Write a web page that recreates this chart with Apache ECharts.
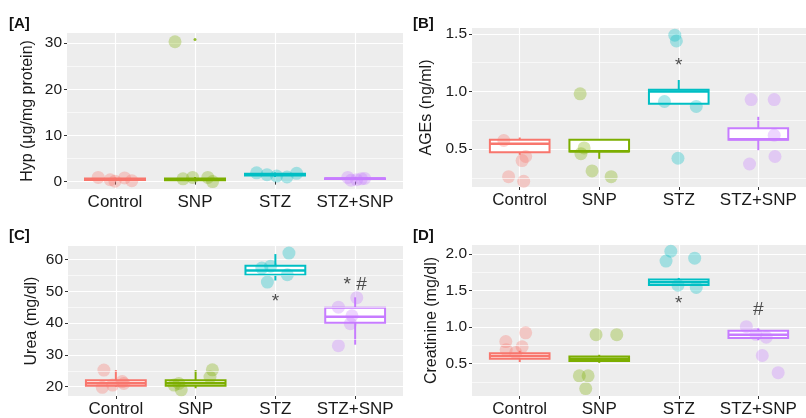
<!DOCTYPE html>
<html>
<head>
<meta charset="utf-8">
<script src="https://cdn.jsdelivr.net/npm/echarts@6/dist/echarts.min.js"></script>
<style>html,body{margin:0;padding:0;background:#fff}#c{width:806px;height:418px}</style>
</head>
<body>
<div id="c"></div>
<script>
const categories = ['Control', 'SNP', 'STZ', 'STZ+SNP'];
const colors = ['#F8766D', '#7CAE00', '#00BFC4', '#C77CFF'];
const pointColors = ['rgba(248,118,109,0.4)', 'rgba(124,174,0,0.4)', 'rgba(0,191,196,0.4)', 'rgba(199,124,255,0.4)'];

// Panel A: Hyp
const hypPoints = [[0.9, 0.1, 0.8, 0.2, 0.4], [30.3, 0.6, 0.9, 0.9, 0.0], [1.9, 1.2, 1.0, 1.8, 1.5], [0.9, 0.4, 0.6, 0.3, 0.7]];
const hypJitter = [[-0.21, 0, 0.12, 0.21, -0.06], [-0.25, -0.15, -0.03, 0.16, 0.22], [-0.23, 0.02, 0.15, 0.27, -0.1], [-0.09, 0.02, 0.08, -0.05, 0.12]];
const hypBox = [[0.2, 0.35, 0.5, 0.65, 0.85], [0.1, 0.3, 0.5, 0.7, 1.0], [1.0, 1.3, 1.5, 1.7, 2.0], [0.4, 0.55, 0.65, 0.75, 0.9]];
const hypOutliers = [[1, 30.8]];
const hypTicks = [0, 10, 20, 30];
const hypMinor = [5, 15, 25];
const hypAnn = [];

// Panel B: AGEs
const agePoints = [[0.574, 0.435, 0.40, 0.26, 0.22], [0.98, 0.51, 0.46, 0.31, 0.26], [1.49, 1.44, 0.913, 0.87, 0.42], [0.93, 0.93, 0.62, 0.435, 0.37]];
const ageJitter = [[-0.2, 0.075, 0.03, -0.14, 0.05], [-0.24, -0.19, -0.23, -0.09, 0.15], [-0.05, -0.03, -0.18, 0.22, -0.01], [-0.09, 0.2, 0.2, 0.21, -0.11]];
const ageBox = [[0.45, 0.473, 0.545, 0.58, 0.6], [0.415, 0.478, 0.48, 0.58, 0.58], [0.893, 0.893, 1.0, 1.015, 1.10], [0.49, 0.58, 0.585, 0.68, 0.78]];
const ageTicks = [0.5, 1.0, 1.5];
const ageMinor = [0.25, 0.75, 1.25];
const ageAnn = [[2, 1.25, '*']];

// Panel C: Urea
const ureaPoints = [[25.2, 19.8, 21.6, 20.5, 21.0], [25.3, 23.0, 21.0, 19.0, 20.5], [62.0, 52.9, 57.9, 55.2, 57.3], [48.0, 45.0, 42.3, 39.8, 32.9]];
const ureaJitter = [[-0.15, -0.17, 0.08, -0.04, 0.1], [0.21, 0.18, -0.21, -0.18, -0.27], [0.17, -0.1, -0.06, 0.15, -0.17], [0.02, -0.21, -0.04, -0.06, -0.21]];
const ureaBox = [[20.0, 20.3, 21.1, 22.0, 25.2], [19.5, 20.3, 21.1, 22.0, 25.2], [53.4, 55.2, 56.5, 58.0, 61.7], [33.2, 40.1, 42.0, 44.8, 48.1]];
const ureaTicks = [20, 30, 40, 50, 60];
const ureaMinor = [25, 35, 45, 55];
const ureaAnn = [[2, 47.7, '*'], [3, 53.1, '* #']];

// Panel D: Creatinine
const creaPoints = [[0.92, 0.80, 0.73, 0.69, 0.65], [0.895, 0.895, 0.333, 0.333, 0.158], [2.035, 1.90, 1.94, 1.57, 1.54], [1.004, 0.86, 0.61, 0.376, 0.9]];
const creaJitter = [[0.075, -0.175, 0.03, -0.17, -0.05], [-0.04, 0.22, -0.25, -0.14, -0.17], [-0.1, -0.16, 0.2, -0.01, 0.22], [-0.15, 0.1, 0.05, 0.25, -0.03]];
const creaBox = [[0.52, 0.566, 0.605, 0.64, 0.675], [0.51, 0.534, 0.565, 0.596, 0.62], [1.56, 1.574, 1.61, 1.65, 1.67], [0.82, 0.85, 0.895, 0.947, 0.98]];
const creaTicks = [0.5, 1.0, 1.5, 2.0];
const creaMinor = [0.25, 0.75, 1.25, 1.75];
const creaAnn = [[2, 1.355, '*'], [3, 1.27, '#']];

const FONT = 'Liberation Sans, Arial, sans-serif';

const panels = [
  { tag: '[A]', name: 'Hyp (\u03bcg/mg protein)', pts: hypPoints, jit: hypJitter, box: hypBox, out: hypOutliers, ticks: hypTicks, minor: hypMinor, ann: hypAnn, dec: 0,
    grid: { left: 67, top: 33, width: 336, height: 156 }, min: -1.6, max: 32.2, gap: 31, tagPos: [9, 16] },
  { tag: '[B]', name: 'AGEs (ng/ml)', pts: agePoints, jit: ageJitter, box: ageBox, out: [], ticks: ageTicks, minor: ageMinor, ann: ageAnn, dec: 1,
    grid: { left: 472, top: 28, width: 334, height: 159 }, min: 0.17, max: 1.552, gap: 37, tagPos: [413, 16] },
  { tag: '[C]', name: 'Urea (mg/dl)', pts: ureaPoints, jit: ureaJitter, box: ureaBox, out: [], ticks: ureaTicks, minor: ureaMinor, ann: ureaAnn, dec: 0,
    grid: { left: 68, top: 246, width: 335, height: 156 }, min: 17.06, max: 64.24, gap: 28, tagPos: [9, 228] },
  { tag: '[D]', name: 'Creatinine (mg/dl)', pts: creaPoints, jit: creaJitter, box: creaBox, out: [], ticks: creaTicks, minor: creaMinor, ann: creaAnn, dec: 1,
    grid: { left: 472, top: 245, width: 334, height: 157 }, min: 0.057, max: 2.12, gap: 32, tagPos: [413, 228] }
];

const grids = [], xAxes = [], yAxes = [], series = [], graphics = [];

function renderBox(params, api) {
  const x = api.value(0);
  const lo = api.value(1), q1 = api.value(2), med = api.value(3), q3 = api.value(4), hi = api.value(5);
  const ci = api.value(6);
  const col = colors[ci];
  const w = api.size([0.75, 0])[0];
  const pLo = api.coord([x, lo]), pQ1 = api.coord([x, q1]), pMed = api.coord([x, med]), pQ3 = api.coord([x, q3]), pHi = api.coord([x, hi]);
  const cx = pMed[0];
  return {
    type: 'group',
    children: [
      { type: 'line', shape: { x1: cx, y1: pQ3[1], x2: cx, y2: pHi[1] }, style: { stroke: col, lineWidth: 2 } },
      { type: 'line', shape: { x1: cx, y1: pQ1[1], x2: cx, y2: pLo[1] }, style: { stroke: col, lineWidth: 2 } },
      { type: 'rect', shape: { x: cx - w / 2, y: pQ3[1], width: w, height: Math.max(pQ1[1] - pQ3[1], 0.5) }, style: { fill: '#fff', stroke: col, lineWidth: 2 } },
      { type: 'line', shape: { x1: cx - w / 2, y1: pMed[1], x2: cx + w / 2, y2: pMed[1] }, style: { stroke: col, lineWidth: 2.5 } }
    ]
  };
}

panels.forEach((p, i) => {
  grids.push(Object.assign({ show: true, backgroundColor: '#EDEDED', borderWidth: 0 }, p.grid));
  xAxes.push({
    type: 'value', gridIndex: i, min: 0.4, max: 4.6,
    axisLine: { show: false },
    axisTick: { show: true, customValues: [1, 2, 3, 4], length: 3, lineStyle: { color: '#333' } },
    axisLabel: { customValues: [1, 2, 3, 4], formatter: v => categories[Math.round(v) - 1], color: '#1a1a1a', fontSize: 17, fontFamily: FONT, margin: 5 },
    splitLine: { show: true, lineStyle: { color: '#ffffff', width: 1.2 } }
  });
  yAxes.push({
    type: 'value', gridIndex: i, min: p.min, max: p.max,
    name: p.name, nameLocation: 'middle', nameGap: p.gap,
    nameTextStyle: { fontSize: 16, fontFamily: FONT, color: '#1a1a1a' },
    axisLine: { show: false },
    axisTick: { show: true, customValues: p.ticks, length: 3, lineStyle: { color: '#333' } },
    axisLabel: { customValues: p.ticks, formatter: v => v.toFixed(p.dec), color: '#1a1a1a', fontSize: 15.5, fontFamily: FONT, margin: 5 },
    splitLine: { show: true, lineStyle: { color: '#ffffff', width: 1.2 } }
  });
  // minor grid lines
  series.push({
    type: 'scatter', xAxisIndex: i, yAxisIndex: i, data: [], z: 1, silent: true,
    markLine: { silent: true, symbol: 'none', label: { show: false }, animation: false,
      lineStyle: { color: '#ffffff', width: 0.6, type: 'solid' },
      data: p.minor.map(v => ({ yAxis: v })) }
  });
  // boxes
  series.push({
    type: 'custom', xAxisIndex: i, yAxisIndex: i, z: 2, renderItem: renderBox, silent: true,
    data: p.box.map((b, g) => [g + 1, b[0], b[1], b[2], b[3], b[4], g])
  });
  // outliers
  if (p.out.length) {
    series.push({
      type: 'scatter', xAxisIndex: i, yAxisIndex: i, z: 3, symbolSize: 3, silent: true,
      data: p.out.map(o => ({ value: [o[0] + 1, o[1]], itemStyle: { color: colors[o[0]] } }))
    });
  }
  // jittered points
  const pd = [];
  p.pts.forEach((vals, g) => vals.forEach((v, k) => pd.push({ value: [g + 1 + p.jit[g][k], v], itemStyle: { color: pointColors[g] } })));
  series.push({ type: 'scatter', xAxisIndex: i, yAxisIndex: i, z: 4, symbolSize: 13, silent: true, data: pd });
  // annotations
  if (p.ann.length) {
    series.push({
      type: 'scatter', xAxisIndex: i, yAxisIndex: i, z: 5, symbolSize: 1, silent: true,
      itemStyle: { color: 'rgba(0,0,0,0)' },
      data: p.ann.map(a => ({ value: [a[0] + 1, a[1]], label: { show: true, position: 'inside', offset: [0, 3], formatter: a[2], fontSize: 19, fontFamily: FONT, color: '#222' } }))
    });
  }
  graphics.push({ type: 'text', left: p.tagPos[0], top: p.tagPos[1], style: { text: p.tag, font: 'bold 15px ' + FONT, fill: '#111' } });
});

const chart = echarts.init(document.getElementById('c'), null, { renderer: 'canvas' });
chart.setOption({
  animation: false,
  grid: grids, xAxis: xAxes, yAxis: yAxes, series: series, graphic: graphics
});
</script>
</body>
</html>
